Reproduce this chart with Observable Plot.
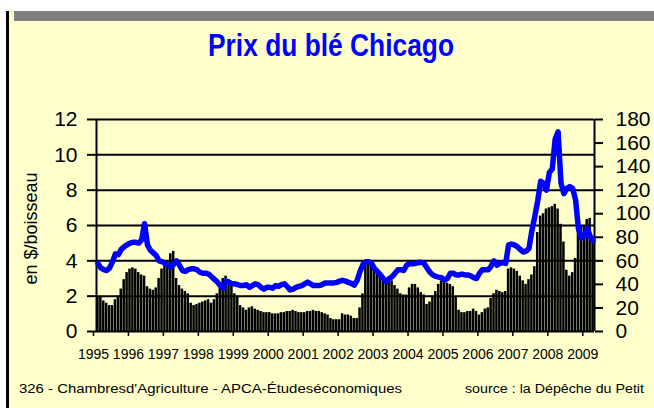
<!DOCTYPE html>
<html>
<head>
<meta charset="utf-8">
<script src="https://cdn.jsdelivr.net/npm/d3@7"></script>
<script src="https://cdn.jsdelivr.net/npm/@observablehq/plot@0.6"></script>
<style>
  html, body { margin: 0; padding: 0; background: #fff; }
  #page { position: relative; width: 654px; height: 408px; overflow: hidden; background: #fff; font-family: "Liberation Sans", Arial, sans-serif; }
  #frame { position: absolute; left: 6px; top: 11px; width: 648px; height: 397px; border-left: 3px solid #000; background: #FFFFCC; box-sizing: border-box; }
  #graybar { position: absolute; left: 14px; top: 11px; width: 640px; height: 10px; background: #808080; }
  #title { position: absolute; left: 0; top: 24px; }
  #chart { position: absolute; left: 0; top: 90px; }
  #foot { position: absolute; left: 0; top: 378px; }
</style>
</head>
<body>
<div id="page">
  <div id="frame"></div>
  <div id="graybar"></div>
  <svg id="title" width="654" height="46">
    <text x="331" y="32" text-anchor="middle" fill="#0000FF" font-family="Liberation Sans Narrow, Liberation Sans, Arial, sans-serif" font-weight="bold" font-size="32" textLength="246" lengthAdjust="spacingAndGlyphs">Prix du blé Chicago</text>
  </svg>
  <div id="chart"></div>
  <svg id="foot" width="654" height="24">
    <text x="19" y="15" fill="#000" font-family="Liberation Sans Narrow, Liberation Sans, Arial, sans-serif" font-size="12" textLength="383" lengthAdjust="spacingAndGlyphs">326 - Chambresd'Agriculture - APCA-Étudeséconomiques</text>
    <text x="465" y="15" fill="#000" font-family="Liberation Sans Narrow, Liberation Sans, Arial, sans-serif" font-size="12" textLength="179" lengthAdjust="spacingAndGlyphs">source : la Dépêche du Petit</text>
  </svg>
</div>
<script>
// Years (x tick labels), one tick per January
const years = ["1995","1996","1997","1998","1999","2000","2001","2002","2003","2004","2005","2006","2007","2008","2009"];

// Monthly bars, Jan 1995 - Mar 2009, right axis (0-180)
const bars = [
  30, 29, 26, 24, 22, 22, 27, 30, 36, 44, 50, 53,
  54, 53, 50, 48, 47, 38, 36, 35, 37, 45, 53, 56,
  59, 66, 68, 45, 39, 36, 34, 32, 24, 22, 23, 24,
  25, 26, 27, 24, 27, 32, 39, 45, 47, 44, 39, 32,
  30, 22, 20, 18, 20, 21, 19, 18, 17, 16, 16, 16,
  15, 15, 15, 16, 16, 17, 17, 18, 17, 16, 16, 16,
  17, 17, 18, 17, 17, 16, 15, 14, 11, 10, 10, 10,
  15, 14, 14, 13, 11, 11, 20, 32, 57, 58, 56, 53,
  52, 50, 46, 43, 42, 43, 39, 36, 32, 31, 31, 37,
  40, 40, 37, 33, 31, 23, 25, 30, 34, 40, 43, 42,
  41, 40, 38, 29, 18, 16, 16, 17, 17, 19, 17, 14,
  16, 19, 20, 28, 32, 35, 34, 33, 34, 53, 54, 53,
  51, 47, 43, 40, 44, 48, 55, 84, 98, 100, 104, 105,
  106, 108, 104, 91, 76, 52, 47, 50, 62, 88, 89, 90,
  95, 96, 78
];

// Monthly wheat price, $/boisseau (left axis)
const price = [
  3.85, 3.6, 3.5, 3.45, 3.6, 3.95, 4.4, 4.35, 4.65, 4.8, 4.9, 5.0,
  5.05, 5.05, 5.0, 5.2, 6.1, 4.9, 4.6, 4.45, 4.3, 4.0, 3.95, 3.85,
  3.75, 3.65, 3.8, 4.0, 3.75, 3.45, 3.4, 3.5, 3.55, 3.55, 3.5, 3.35,
  3.3, 3.3, 3.25, 3.1, 2.95, 2.8, 2.6, 2.45, 2.85, 2.8, 2.7, 2.7,
  2.65, 2.6, 2.6, 2.65, 2.5, 2.6, 2.7, 2.65, 2.5, 2.4, 2.5, 2.5,
  2.45, 2.6, 2.55, 2.65, 2.7, 2.55, 2.35, 2.4, 2.5, 2.55, 2.6, 2.7,
  2.8, 2.7, 2.6, 2.6, 2.6, 2.65, 2.75, 2.75, 2.75, 2.75, 2.78, 2.85,
  2.9, 2.85, 2.78, 2.72, 2.62, 2.9, 3.4, 3.8, 3.95, 3.95, 3.85, 3.55,
  3.4, 3.2, 3.0, 2.82, 3.0, 3.1, 3.3, 3.5, 3.5, 3.45, 3.75, 3.83,
  3.83, 3.85, 3.9, 3.92, 3.85, 3.6, 3.35, 3.2, 3.12, 3.08, 3.05, 2.9,
  3.0, 3.3, 3.3, 3.2, 3.2, 3.25, 3.2, 3.2, 3.15, 3.05, 3.0, 3.3,
  3.5, 3.5, 3.5, 3.7, 4.0, 3.75, 3.85, 3.9, 3.85, 4.9, 4.95, 4.9,
  4.8, 4.65, 4.5, 4.55, 4.7, 5.7, 6.5, 7.4, 8.5, 8.4, 8.0, 9.0,
  9.2, 10.9, 11.3, 8.4, 7.8, 8.1, 8.2, 8.1, 7.45, 5.8, 5.3, 5.4,
  5.85, 5.4, 5.15
];

const leftTicks = [0, 2, 4, 6, 8, 10, 12];
const rightTicks = [0, 20, 40, 60, 80, 100, 120, 140, 160, 180];
const ratio = 180 / 12; // right axis units per left axis unit

const barData = bars.map((v, i) => ({m: i, v}));
const lineData = price.map((p, i) => ({m: i + 0.5, p}));
const yearTicks = years.map((y, i) => i * 12);

const chart = Plot.plot({
  width: 654,
  height: 280,
  marginTop: 29,
  marginBottom: 39,
  marginLeft: 96,
  marginRight: 60,
  style: {background: "transparent", fontFamily: "Liberation Sans, Arial, sans-serif", color: "#000"},
  x: {domain: [0, bars.length]},
  y: {domain: [0, 12]},
  marks: [
    Plot.rectY(barData, {x1: "m", x2: d => d.m + 1, y: d => d.v / ratio, fill: "#000", insetLeft: 0.2, insetRight: 0.2}),
    Plot.ruleY(leftTicks, {stroke: "#000", strokeWidth: 2}),
    Plot.ruleX([0, bars.length], {y1: 0, y2: 12, stroke: "#000", strokeWidth: 2}),
    Plot.axisY(leftTicks, {anchor: "left", tickSize: 9, tickPadding: 10, tickFormat: d => String(d), fontSize: 21, stroke: "#000", strokeWidth: 2, label: null}),
    Plot.axisY(rightTicks.map(t => t / ratio), {anchor: "right", tickSize: 8, tickPadding: 13, tickFormat: d => String(Math.round(d * ratio)), fontSize: 21, fontFamily: "Liberation Sans Narrow, Liberation Sans, Arial, sans-serif", stroke: "#000", strokeWidth: 2, label: null}),
    Plot.axisX(yearTicks, {anchor: "bottom", tickSize: 5, tickPadding: 13, tickFormat: (d, i) => years[i], fontSize: 14, dx: -3, stroke: "#000", strokeWidth: 1.5, label: null}),
    Plot.text(["en $/boisseau"], {frameAnchor: "left", textAnchor: "middle", rotate: -90, dx: -65, dy: 3, fontSize: 18, fill: "#000"}),
    Plot.line(lineData, {x: "m", y: "p", stroke: "#0000FF", strokeWidth: 5.5, strokeLinejoin: "round", strokeLinecap: "round"})
  ]
});
document.getElementById("chart").appendChild(chart);
</script>
</body>
</html>
